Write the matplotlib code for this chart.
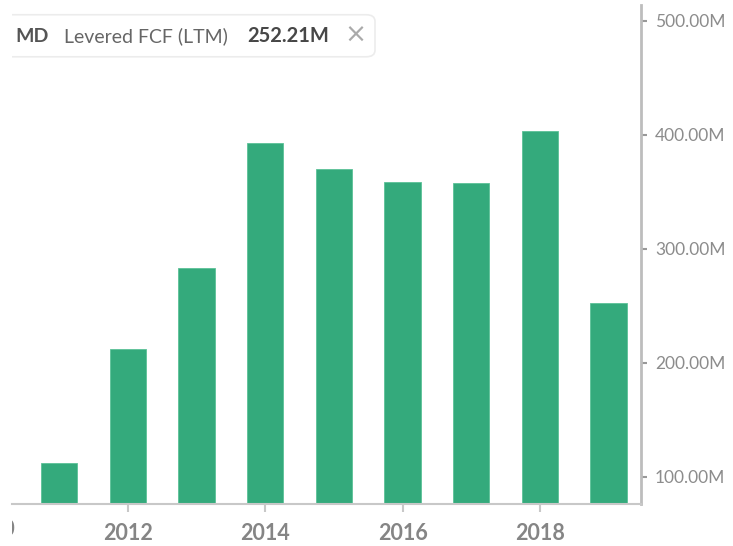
import matplotlib.pyplot as plt
from matplotlib.patches import FancyBboxPatch, Rectangle
from matplotlib.ticker import FuncFormatter
import matplotlib.transforms as mtransforms

years = [2011, 2012, 2013, 2014, 2015, 2016, 2017, 2018, 2019]
fcf = [112, 212, 283, 393, 370, 359, 358, 403.5, 252.21]  # millions
xticks = [2010, 2012, 2014, 2016, 2018]
yticks = [100, 200, 300, 400, 500]

plt.rcParams['font.family'] = ['Lato', 'DejaVu Sans']

fig = plt.figure(figsize=(7.33, 5.46), dpi=100)
ax = fig.add_axes([12 / 733, 42 / 546, 629 / 733, 499 / 546])

ax.bar(years, fcf, width=0.53, color='#34aa7c', edgecolor='#5cc197', linewidth=0.6, zorder=2)

ax.yaxis.tick_right()
ax.set_yticks(yticks)
ax.yaxis.set_major_formatter(FuncFormatter(lambda v, p: f"{v:.2f}M"))
ax.set_xticks(xticks)
ax.set_xticklabels([str(t) for t in xticks])
ax.set_xlim(2010.316, 2019.47)
ax.set_ylim(76.3, 514)

for s in ['top', 'left']:
    ax.spines[s].set_visible(False)
ax.spines['right'].set_color('#bdbdbd')
ax.spines['right'].set_linewidth(2)
ax.spines['bottom'].set_color('#c8c8c8')
ax.spines['bottom'].set_linewidth(1.5)

ax.tick_params(axis='y', length=4, width=1.5, color='#999999', pad=6,
               labelsize=12.5, labelcolor='#8c8c8c', direction='out')
ax.tick_params(axis='x', length=6, width=1.5, color='#c8c8c8', pad=8,
               labelsize=15.5, labelcolor='#858585')
for lb in ax.get_xticklabels():
    lb.set_fontweight('bold')

# everything left of the axes edge is cut away in the original
clip = Rectangle((12 / 733, 0), 1, 1, transform=fig.transFigure, visible=False)
fig.add_artist(clip)

# 2010 tick lies left of the view; only the tail of its label shows
trans = mtransforms.blended_transform_factory(ax.transData, ax.transAxes)
t2010 = ax.text(xticks[0], -26 / 499, str(xticks[0]), transform=trans, ha='center', va='center',
                fontsize=15.5, fontweight='bold', color='#858585', clip_on=True)
t2010.set_clip_path(clip)

# legend chip at the top left
box = FancyBboxPatch((-0.02, 0.896), 375 / 733 + 0.02, 0.077,
                     boxstyle='round,pad=0,rounding_size=0.012',
                     transform=fig.transFigure, facecolor='white', edgecolor='#ececec',
                     linewidth=1.2, zorder=1)
fig.patches.append(box)
box.set_clip_path(clip)
ty = 1 - 36 / 546
fig.text(15 / 733, ty, 'MD', fontsize=14, fontweight='bold', color='#555555', va='center', zorder=6)
fig.text(64 / 733, ty, 'Levered FCF (LTM)', fontsize=14, color='#666666', va='center', zorder=6)
fig.text(247 / 733, ty, '252.21M', fontsize=14.5, fontweight='bold', color='#474747', va='center', zorder=6)
fig.text(355.5 / 733, ty, '\u00d7', fontsize=19, family='DejaVu Sans', color='#aaaaaa',
         ha='center', va='center', zorder=6)

fig.savefig('out.png', dpi=100)
